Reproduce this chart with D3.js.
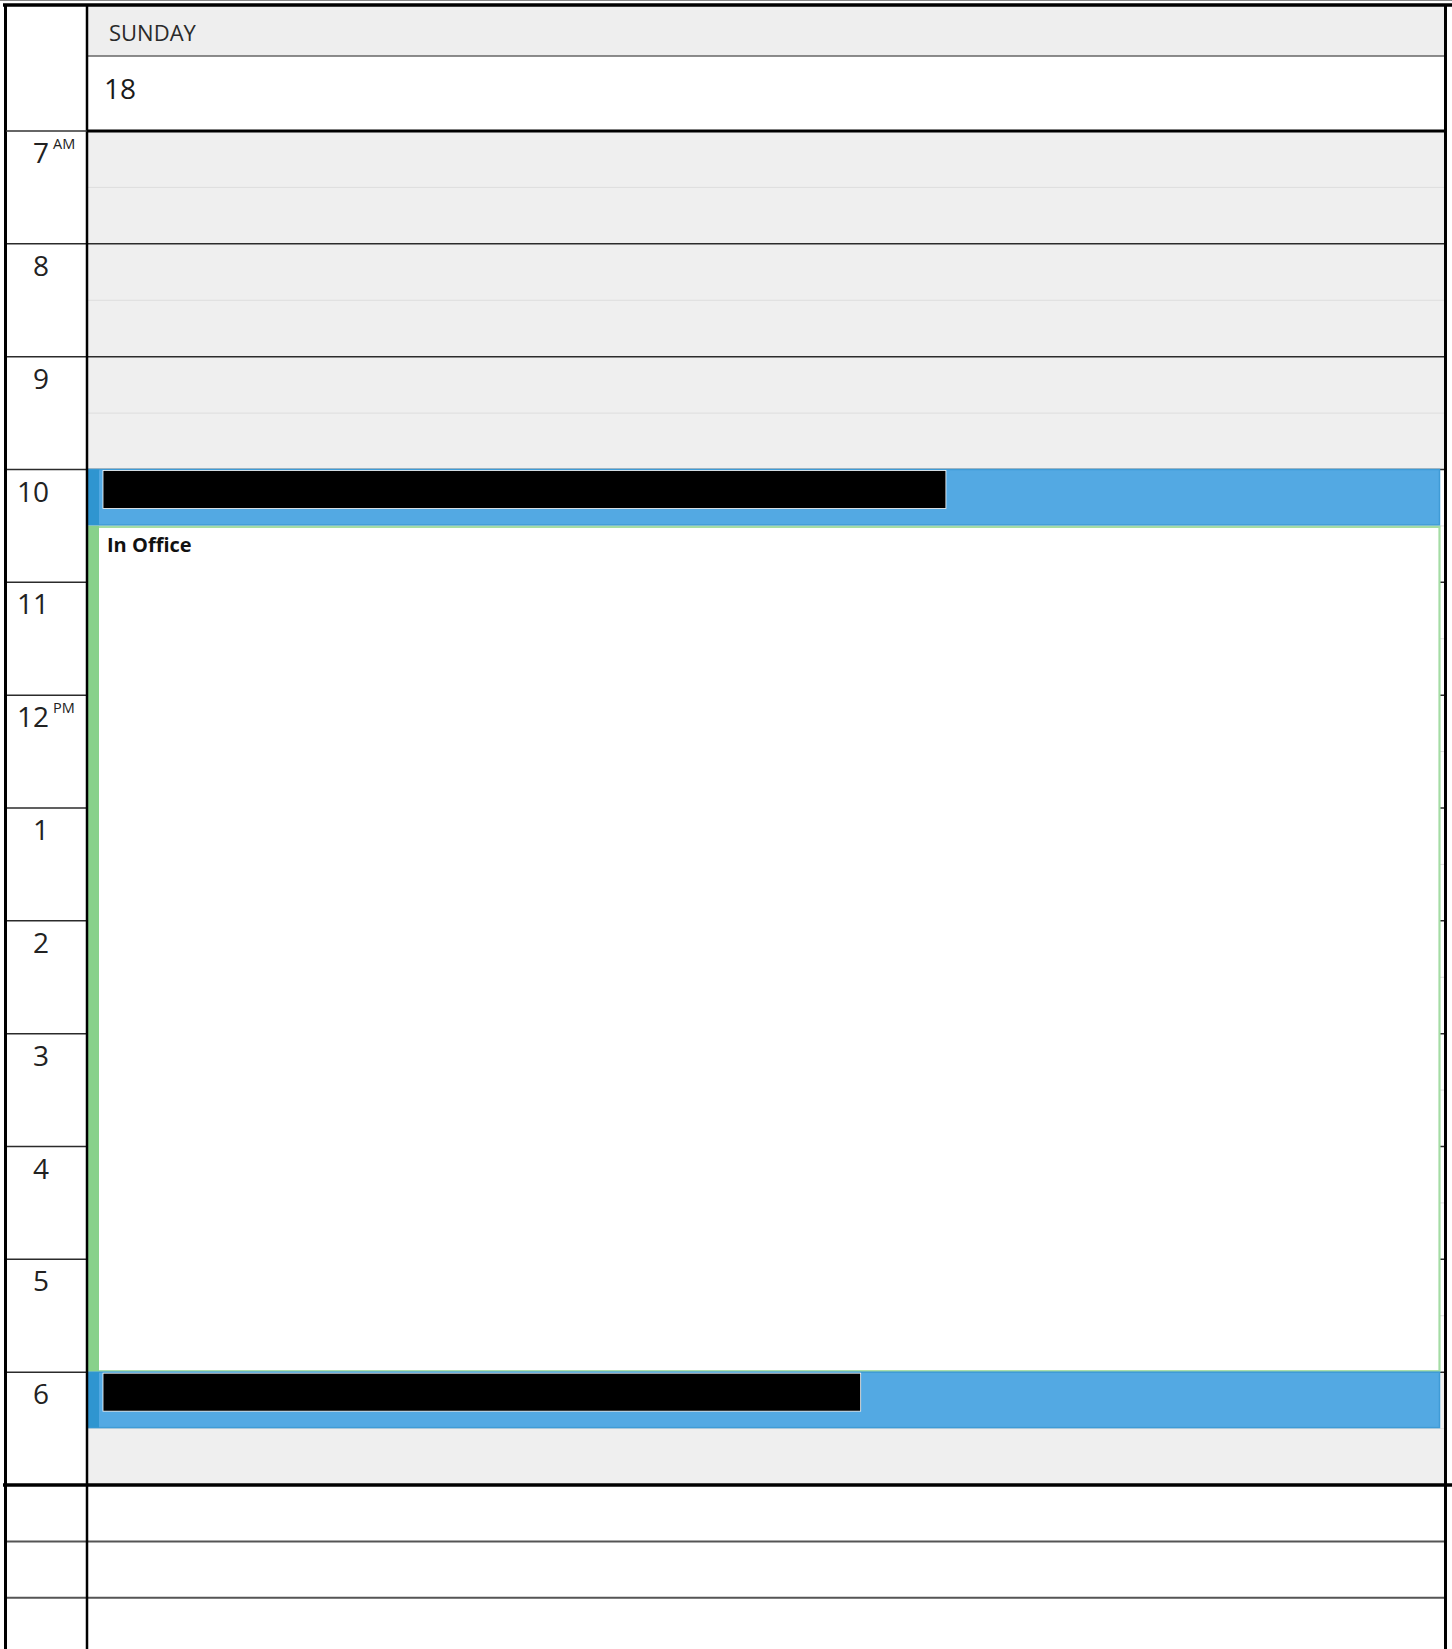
<!DOCTYPE html>
<html>
<head>
<meta charset="utf-8">
<script src="https://cdn.jsdelivr.net/npm/d3@7"></script>
<style>
    body { margin: 0; background: #fff; }
    svg { display: block; font-family: "Open Sans", "Noto Sans", sans-serif; }
</style>
</head>
<body>
<div id="cal"></div>
<script>
// day header
const dayName = 'SUNDAY';
const dayNumber = '18';

// hour rows shown in the grid
const hours = [7, 8, 9, 10, 11, 12, 13, 14, 15, 16, 17, 18];
const hourLabels = ['7', '8', '9', '10', '11', '12', '1', '2', '3', '4', '5', '6'];
const hourSuffix = { 7: 'AM', 12: 'PM' };
const workStart = 10;
const workEnd = 18;

// events (start/end in hours, redacted = share of the title bar that is blacked out)
const eventTitles = ['', 'In Office', ''];
const eventStarts = [10, 10.5, 18];
const eventEnds = [10.5, 18, 18.5];
const eventKinds = ['busy', 'office', 'busy'];
const eventRedacted = [0.623, 0, 0.56];

// extra empty rows under the grid
const extraRows = [0, 1, 2];

const W = 1452, H = 1649;
const gutter = 87, right = 1444;

const svg = d3.select('#cal').append('svg')
    .attr('width', W)
    .attr('height', H);

const y = d3.scaleLinear()
    .domain([7, 19])
    .range([131, 1485]);
const half = (y(8) - y(7)) / 2;

const x = d3.scaleLinear()
    .domain([0, 1])
    .range([gutter, 1440]);

// header
svg.append('rect').attr('x', gutter).attr('y', 6).attr('width', right - gutter).attr('height', 50).attr('fill', '#eeeeee');
svg.append('text').attr('x', 109).attr('y', 41).attr('font-size', 22).attr('fill', '#2a2a2a').text(dayName);
svg.append('line').attr('x1', gutter).attr('x2', right).attr('y1', 56).attr('y2', 56).attr('stroke', '#666').attr('stroke-width', 1.5);
svg.append('text').attr('x', 104).attr('y', 99).attr('font-size', 28).attr('fill', '#1a1a1a').text(dayNumber);

// background: grey outside working hours
svg.append('rect').attr('x', gutter).attr('y', y(7)).attr('width', right - gutter).attr('height', y(19) - y(7)).attr('fill', '#efefef');
svg.append('rect').attr('x', gutter).attr('y', y(workStart)).attr('width', right - gutter).attr('height', y(workEnd) - y(workStart)).attr('fill', '#fff');

// half hour lines
svg.selectAll('.half')
    .data(hours)
    .enter()
    .append('line')
    .attr('x1', gutter)
    .attr('x2', right)
    .attr('y1', d => y(d + 0.5))
    .attr('y2', d => y(d + 0.5))
    .attr('stroke', '#dddddd')
    .attr('stroke-width', 1);

// hour lines
svg.selectAll('.hour')
    .data(hours.slice(1))
    .enter()
    .append('line')
    .attr('x1', 6)
    .attr('x2', right)
    .attr('y1', d => y(d))
    .attr('y2', d => y(d))
    .attr('stroke', '#2b2b2b')
    .attr('stroke-width', 1.5);

// hour labels
const lab = svg.selectAll('.lab')
    .data(hours)
    .enter()
    .append('g')
    .attr('transform', d => `translate(0,${y(d)})`);

lab.append('text')
    .attr('x', 49)
    .attr('y', 32)
    .attr('text-anchor', 'end')
    .attr('font-size', 28)
    .attr('fill', '#222')
    .text((d, i) => hourLabels[i]);

lab.append('text')
    .attr('x', 53)
    .attr('y', 18)
    .attr('font-size', 14.5)
    .attr('fill', '#222')
    .text(d => hourSuffix[d] || '');

// events
const events = eventTitles.map((t, i) => ({
    title: t, start: eventStarts[i], end: eventEnds[i], kind: eventKinds[i], redacted: eventRedacted[i]
}));

const ev = svg.selectAll('.event')
    .data(events)
    .enter()
    .append('g');

ev.append('rect')
    .attr('x', x(0) + 0.5)
    .attr('y', d => y(d.start) + (d.kind === 'office' ? 1 : 0))
    .attr('width', x(1) - x(0) - 1)
    .attr('height', d => y(d.end) - y(d.start) - (d.kind === 'office' ? 2 : 1))
    .attr('fill', d => d.kind === 'busy' ? '#53a9e3' : '#fff')
    .attr('stroke', d => d.kind === 'busy' ? '#3f9bd6' : '#a4dca4')
    .attr('stroke-width', d => d.kind === 'busy' ? 1.5 : 2.2);

ev.append('rect')
    .attr('x', x(0))
    .attr('y', d => y(d.start))
    .attr('width', 12)
    .attr('height', d => y(d.end) - y(d.start) - 1)
    .attr('fill', d => d.kind === 'busy' ? '#2f95d0' : '#88d18b');

ev.filter(d => d.redacted > 0)
    .append('rect')
    .attr('x', 103)
    .attr('y', d => y(d.start) + 1)
    .attr('width', d => x(d.redacted) - x(0))
    .attr('height', 38)
    .attr('fill', '#000')
    .attr('stroke', '#fff')
    .attr('stroke-width', 0.8);

ev.filter(d => d.title)
    .append('text')
    .attr('x', 107)
    .attr('y', d => y(d.start) + 26)
    .attr('font-size', 20)
    .attr('font-weight', 'bold')
    .attr('fill', '#111')
    .text(d => d.title);

// rows below the grid
svg.selectAll('.extra')
    .data(extraRows.slice(1))
    .enter()
    .append('line')
    .attr('x1', 6)
    .attr('x2', right)
    .attr('y1', d => y(19) + d * half)
    .attr('y2', d => y(19) + d * half)
    .attr('stroke', '#555')
    .attr('stroke-width', 2);

// frame
svg.append('line').attr('x1', 0).attr('x2', W).attr('y1', 0.5).attr('y2', 0.5).attr('stroke', '#888').attr('stroke-width', 1);
svg.append('line').attr('x1', 3).attr('x2', W).attr('y1', 5).attr('y2', 5).attr('stroke', '#000').attr('stroke-width', 3.5);
svg.append('line').attr('x1', 5.5).attr('x2', 5.5).attr('y1', 4).attr('y2', H).attr('stroke', '#000').attr('stroke-width', 3);
svg.append('line').attr('x1', 1445.5).attr('x2', 1445.5).attr('y1', 4).attr('y2', H).attr('stroke', '#000').attr('stroke-width', 3);
svg.append('line').attr('x1', gutter).attr('x2', gutter).attr('y1', 4).attr('y2', H).attr('stroke', '#000').attr('stroke-width', 2.5);
svg.append('line').attr('x1', 6).attr('x2', gutter).attr('y1', y(7)).attr('y2', y(7)).attr('stroke', '#333').attr('stroke-width', 1.5);
svg.append('line').attr('x1', gutter).attr('x2', right).attr('y1', y(7)).attr('y2', y(7)).attr('stroke', '#000').attr('stroke-width', 3);
svg.append('line').attr('x1', 3).attr('x2', W).attr('y1', y(19)).attr('y2', y(19)).attr('stroke', '#000').attr('stroke-width', 3.5);
</script>
</body>
</html>
